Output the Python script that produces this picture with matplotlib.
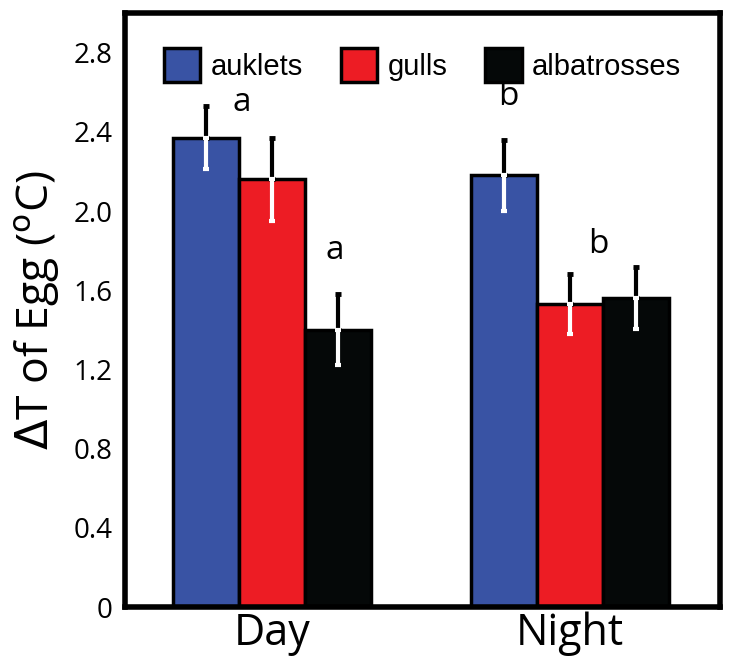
import numpy as np
import matplotlib
matplotlib.use("Agg")
import matplotlib.pyplot as plt

periods = ["Day", "Night"]
species = ["auklets", "gulls", "albatrosses"]
means = {
    "auklets": [2.37, 2.18],
    "gulls": [2.16, 1.53],
    "albatrosses": [1.40, 1.56],
}
errors = {
    "auklets": [0.16, 0.18],
    "gulls": [0.21, 0.15],
    "albatrosses": [0.18, 0.155],
}
# significance letters: (text, height) per period
letters = {
    "auklets": [("a", 2.55), ("b", 2.58)],
    "gulls": [("", 0), ("b", 1.83)],
    "albatrosses": [("a", 1.80), ("", 0)],
}
letter_dx = {"auklets": [0.12, 0.015], "gulls": [0, 0.095], "albatrosses": [-0.01, 0]}
colors = {"auklets": "#3953a4", "gulls": "#ed1c24", "albatrosses": "#050808"}
yticks = [0, 0.4, 0.8, 1.2, 1.6, 2.0, 2.4, 2.8]
ytick_labels = ["0", "0.4", "0.8", "1.2", "1.6", "2.0", "2.4", "2.8"]

axis_font = "Open Sans"

fig = plt.figure(figsize=(7.3, 6.72), dpi=100)
ax = fig.add_axes([125 / 730, 1 - 607 / 672, 595 / 730, 594 / 672])

x = np.arange(len(periods))
width = 0.222
offsets = [-width, 0, width]

for sp, off in zip(species, offsets):
    xs = x + off
    ax.bar(xs, means[sp], width, color=colors[sp], edgecolor="black",
           linewidth=2.5, label=sp, zorder=2)
    ax.errorbar(xs, means[sp], yerr=[np.zeros(2), errors[sp]], fmt="none",
                ecolor="black", elinewidth=3, capsize=2.5, capthick=3.5, zorder=3)
    ax.errorbar(xs, means[sp], yerr=[errors[sp], np.zeros(2)], fmt="none",
                ecolor="white", elinewidth=3, capsize=2, capthick=3, zorder=3)
    for xi, (t, h), dx in zip(xs, letters[sp], letter_dx[sp]):
        if t:
            ax.text(xi + dx, h, t, ha="center", va="center",
                    fontsize=24, family=axis_font, zorder=4)

ax.set_xlim(-0.493, 1.503)
ax.set_ylim(0, 3.0)
ax.set_yticks(yticks)
ax.set_yticklabels(ytick_labels, family=axis_font, fontsize=20)
ax.set_xticks(x)
ax.set_xticklabels(periods, family=axis_font, fontsize=31)
ax.tick_params(axis="y", length=0, pad=9)
ax.tick_params(axis="x", length=0, pad=3)
ax.set_ylabel(r"$\Delta$T of Egg ($^{\rm o}$C)", family=axis_font, fontsize=32, labelpad=8)

for s in ax.spines.values():
    s.set_linewidth(4)

leg = ax.legend(loc="upper center", ncol=3, frameon=False,
                prop={"family": "Liberation Sans", "size": 21},
                handlelength=1.25, handleheight=1.4, handletextpad=0.35,
                columnspacing=1.3, bbox_to_anchor=(0.5, 0.985))

fig.savefig("out.png", dpi=100)
